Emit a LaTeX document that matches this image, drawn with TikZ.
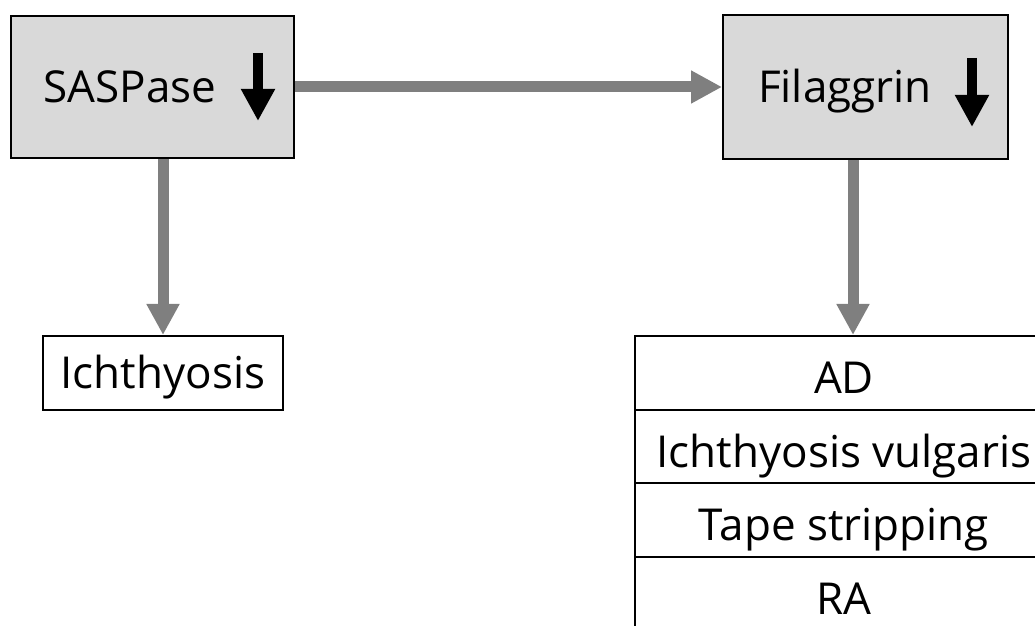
\documentclass[tikz,border=0pt]{standalone}
\usepackage{fontspec}
\setmainfont{Open Sans}
\usetikzlibrary{arrows.meta, positioning}
\definecolor{BoxGray}{HTML}{D9D9D9}
\definecolor{ArrowGray}{HTML}{7F7F7F}
\tikzset{
  plainBox/.style={draw=black, line width=1pt, inner sep=0pt,
    font=\fontsize{22}{26}\selectfont, text height=15.7pt, text depth=0pt},
  keyBox/.style={plainBox, fill=BoxGray},
  rowBox/.style={plainBox, minimum width=209pt, minimum height=36.75pt, text height=21.2pt},
  flow/.style={draw=ArrowGray, line width=5.5pt, -{Triangle[length=15.5pt,width=15.5pt]}},
  dropArrow/.style={draw=black, line width=5pt, -{Triangle[length=16pt,width=16pt]}}
}
\begin{document}
\begin{tikzpicture}[x=0.5pt, y=-0.5pt]
  \clip (0,0) rectangle (1035,626);
  % top boxes
  \node[keyBox, minimum width=141.5pt, minimum height=71pt] (sas) at (152.5,87) {SASPase\hspace*{22.5pt}};
  \node[keyBox, minimum width=142.5pt, minimum height=72pt] (fil) at (865.5,87) {Filaggrin\hspace*{20.5pt}};
  \draw[dropArrow] ([xshift=52.75pt,yshift=17pt]sas.center) -- ++(0,-34pt);
  \draw[dropArrow] ([xshift=53.25pt,yshift=14.5pt]fil.center) -- ++(0,-34.5pt);
  % outcomes
  \node[plainBox, minimum width=120pt, minimum height=37pt] (ich) at (163,373) {Ichthyosis};
  \node[rowBox] (ad) at (844,372.75) {AD};
  \node[rowBox, below=-1pt of ad] (iv) {Ichthyosis vulgaris};
  \node[rowBox, below=-1pt of iv] (tape) {Tape stripping};
  \node[rowBox, below=-1pt of tape] (ra) {RA};
  % connectors
  \draw[flow] (sas) -- (fil);
  \draw[flow] (ich.north |- sas.south) -- (ich.north);
  \coordinate (filOut) at ([xshift=-6.25pt]fil.south);
  \draw[flow] (filOut) -- (filOut |- ad.north);
\end{tikzpicture}
\end{document}
